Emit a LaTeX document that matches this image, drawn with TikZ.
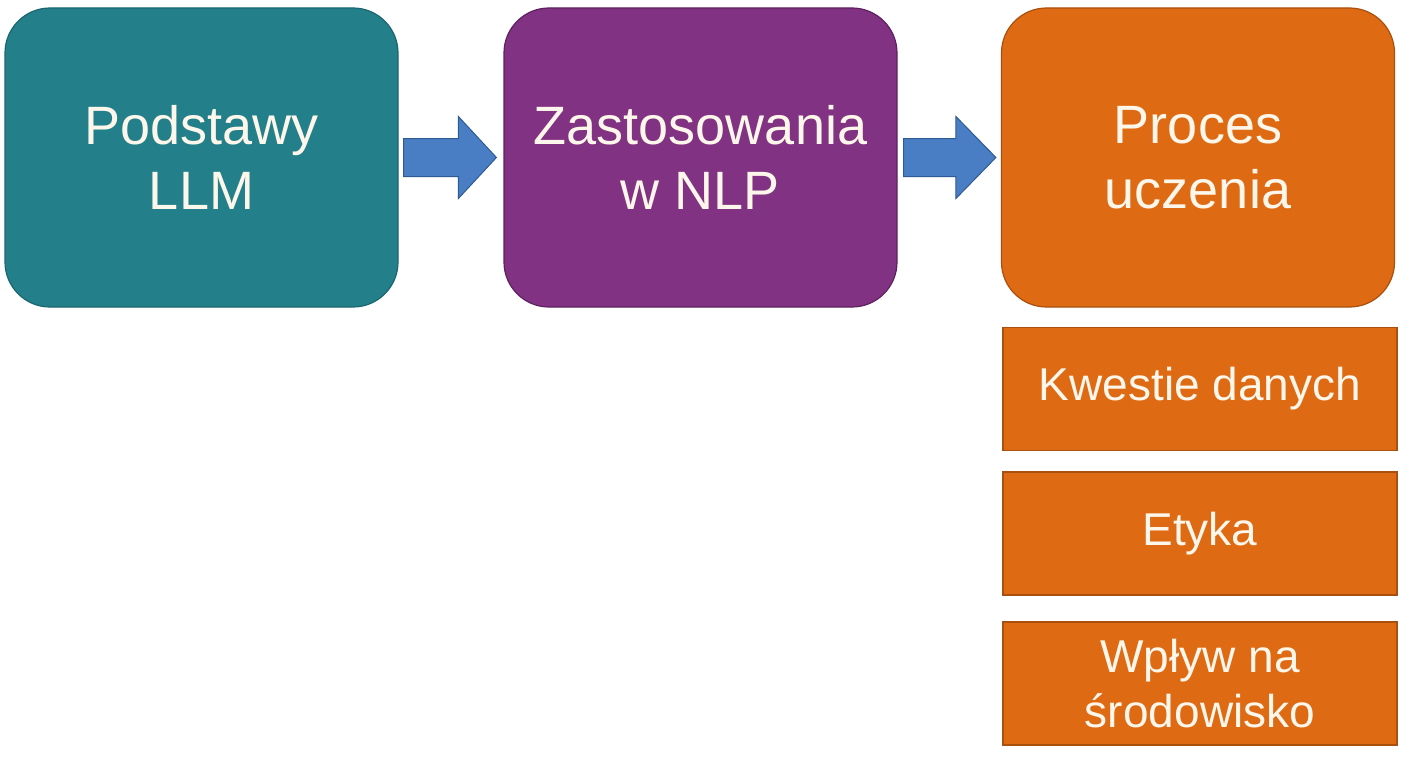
\documentclass[tikz,border=0pt]{standalone}
\usepackage{fontspec}
\setmainfont{Liberation Sans}
\usetikzlibrary{calc}
\definecolor{tealc}{HTML}{23808A}
\definecolor{tealb}{HTML}{1A6670}
\definecolor{purplec}{HTML}{823282}
\definecolor{purpleb}{HTML}{5E2160}
\definecolor{orangec}{HTML}{DE6B14}
\definecolor{orangeb}{HTML}{A9500E}
\definecolor{arrowc}{HTML}{4A7EC4}
\definecolor{arrowb}{HTML}{2E5A94}
\definecolor{txtc}{HTML}{FDF6EA}
\tikzset{
  bigbox/.style={draw=#1b, fill=#1c, line width=1.2pt, rounded corners=45pt,
    minimum width=393pt, minimum height=299pt, inner sep=0pt,
    text=txtc, align=center,
    font=\fontsize{54}{65}\selectfont},
  smallbox/.style={draw=orangeb, fill=orangec, line width=1.2pt,
    minimum width=394pt, minimum height=123pt, inner sep=0pt,
    text=txtc, align=center,
    font=\fontsize{46}{55}\selectfont},
  blockarrow/.style={draw=arrowb, fill=arrowc, line width=1pt, line join=miter}
}
\begin{document}
\begin{tikzpicture}[x=1pt,y=-1pt]
\useasboundingbox (0,0) rectangle (1408,768);
\node[bigbox=teal] (a) at (201.5,157.5) {Podstawy\\LLM};
\node[bigbox=purple] (b) at (700.5,157.5) {Zastosowania\\w NLP};
\node[bigbox=orange] (c) at (1198,157.5) {Proces\\uczenia};
\node[smallbox] (d) at (1200,389) {Kwestie danych};
\node[smallbox] (e) at (1200,533.5) {Etyka};
\node[smallbox] (f) at (1200,683.5) {Wpływ na\\środowisko};
\draw[blockarrow] ($(a.east)+(5,-19)$) -- ($(b.west)+(-45,-19)$) -- ($(b.west)+(-45,-41)$)
  -- ($(b.west)+(-7,0)$) -- ($(b.west)+(-45,41)$) -- ($(b.west)+(-45,19)$)
  -- ($(a.east)+(5,19)$) -- cycle;
\draw[blockarrow] ($(b.east)+(6,-19)$) -- ($(c.west)+(-45,-19)$) -- ($(c.west)+(-45,-41)$)
  -- ($(c.west)+(-5,0)$) -- ($(c.west)+(-45,41)$) -- ($(c.west)+(-45,19)$)
  -- ($(b.east)+(6,19)$) -- cycle;
\end{tikzpicture}
\end{document}
